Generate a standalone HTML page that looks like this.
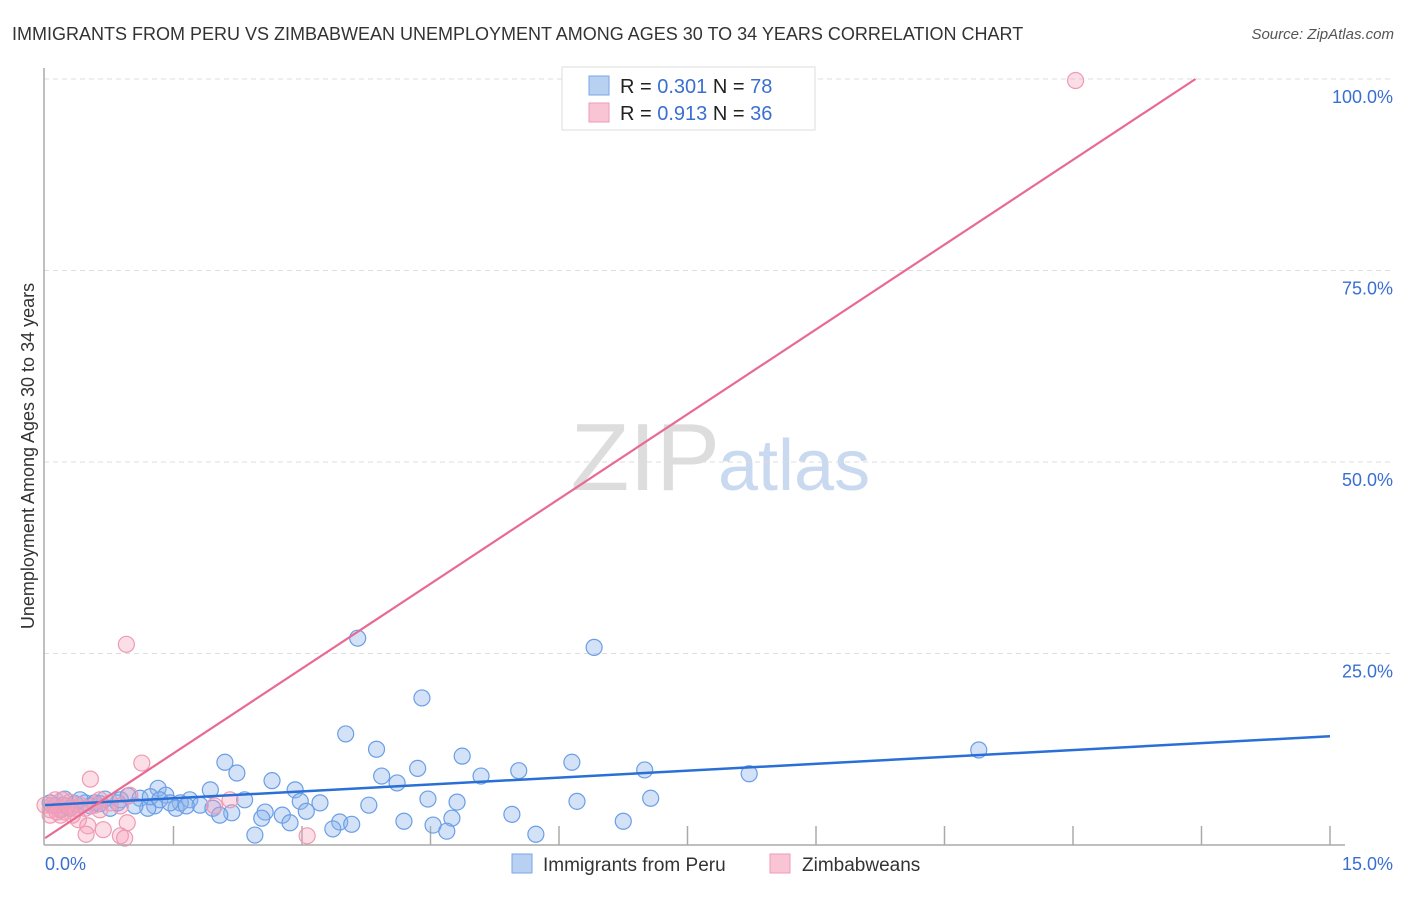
<!DOCTYPE html>
<html><head><meta charset="utf-8"><style>
body{margin:0;background:#fff;font-family:"Liberation Sans",sans-serif;}
svg text{font-family:"Liberation Sans",sans-serif;}
</style></head><body>
<svg id="chart" width="1406" height="892" xmlns="http://www.w3.org/2000/svg">
<text x="12" y="40" font-size="18" fill="#333">IMMIGRANTS FROM PERU VS ZIMBABWEAN UNEMPLOYMENT AMONG AGES 30 TO 34 YEARS CORRELATION CHART</text>
<text x="1394" y="39" font-size="15" fill="#555" font-style="italic" text-anchor="end">Source: ZipAtlas.com</text>
<text x="720" y="490" font-size="96" fill="#ddd" text-anchor="end" font-family="Liberation Serif">ZIP</text>
<text x="718" y="490" font-size="72" fill="#c9d9f0">atlas</text>
<text transform="translate(34,456) rotate(-90)" font-size="18" fill="#333" text-anchor="middle">Unemployment Among Ages 30 to 34 years</text>
<g id="grid"></g><g id="pts"></g><g id="lines"></g>
<line x1="44" y1="68" x2="44" y2="845" stroke="#aaa" stroke-width="1.5"/>
<line x1="44" y1="845" x2="1345" y2="845" stroke="#aaa" stroke-width="1.5"/>
<text x="45" y="870" font-size="18" fill="#3a6fd1">0.0%</text>
<text x="1393" y="870" font-size="18" fill="#3a6fd1" text-anchor="end">15.0%</text>
<g>
<rect x="562" y="67" width="253" height="63" fill="#fff" stroke="#ddd"/>
<rect x="589" y="76" width="20" height="19" fill="#b8d1f3" stroke="#7aa6e6"/>
<rect x="589" y="103" width="20" height="19" fill="#f9c5d5" stroke="#ee9ab5"/>
<text x="620" y="93" font-size="20" fill="#222">R = <tspan fill="#3a6fd1">0.301</tspan>   N = <tspan fill="#3a6fd1">78</tspan></text>
<text x="620" y="120" font-size="20" fill="#222">R = <tspan fill="#3a6fd1">0.913</tspan>   N = <tspan fill="#3a6fd1">36</tspan></text>
</g>
<g>
<rect x="512" y="854" width="20" height="19" fill="#b8d1f3" stroke="#7aa6e6"/>
<text x="543" y="871" font-size="19" fill="#333">Immigrants from Peru</text>
<rect x="770" y="854" width="20" height="19" fill="#f9c5d5" stroke="#ee9ab5"/>
<text x="802" y="871" font-size="19" fill="#333">Zimbabweans</text>
</g>
</svg>
<script>
const yTicks=[25,50,75,100];
const yTickLabels=["25.0%","50.0%","75.0%","100.0%"];
const xTicks=[1.5,3,4.5,6,7.5,9,10.5,12,13.5,15];
const peruX=[3.65,6.41,4.40,3.51,3.87,4.87,6.15,2.10,2.24,4.35,3.93,5.09,5.53,7.00,8.22,10.90,4.11,2.65,1.32,1.93,2.92,1.41,0.97,1.11,1.69,2.33,2.98,3.21,4.47,4.81,6.21,7.07,3.78,1.58,1.81,1.96,1.53,1.28,1.20,0.76,0.85,0.58,0.47,0.35,0.21,0.12,0.06,0.23,2.57,2.77,3.05,2.18,2.04,2.53,2.86,5.45,4.19,4.75,3.44,3.58,4.53,6.75,3.36,4.69,5.73,2.45,0.18,0.29,0.41,0.53,0.64,0.70,0.88,1.05,1.23,1.34,1.46,1.65];
const peruY=[27.0,25.8,19.2,14.5,12.5,11.6,10.8,10.8,9.4,10.0,9.0,9.0,9.7,9.8,9.3,12.4,8.1,8.4,7.4,7.2,7.2,6.5,6.4,6.1,5.9,5.9,5.7,5.5,6.0,5.6,5.7,6.1,5.2,5.5,5.2,4.8,4.8,5.1,4.8,4.8,5.5,5.5,5.5,5.4,5.2,5.1,5.5,6.0,4.3,3.9,4.4,4.2,3.9,3.5,2.9,4.0,3.1,3.5,3.0,2.7,2.6,3.1,2.1,1.8,1.4,1.3,4.6,4.8,5.9,5.1,5.4,6.0,5.9,5.1,6.3,5.9,5.5,5.1];
const zimX=[12.03,0.95,1.13,0.53,0.99,2.16,1.98,0.88,0.64,0.41,0.29,0.18,0.06,0.12,0.23,0.35,0.47,0.58,0.76,0.0,0.39,0.50,0.96,0.68,0.48,0.88,0.93,3.06,0.32,0.18,0.06,0.20,0.64,0.08,0.14,0.26];
const zimY=[99.8,26.2,10.7,8.6,6.5,5.9,5.1,5.1,5.9,5.2,5.6,4.8,4.6,5.9,4.3,4.8,4.8,5.2,5.5,5.2,3.3,2.5,2.9,2.0,1.4,1.2,0.9,1.2,3.9,3.9,3.9,5.9,4.6,5.2,4.3,5.1];
const peruTrend=[0,5.2,15,14.2];
const zimTrend=[0,0.9,13.43,100];
const NS="http://www.w3.org/2000/svg";
const sx=v=>45+v/15*1285, sy=v=>845-v*7.66;
function mk(tag,attrs,parent){const e=document.createElementNS(NS,tag);for(const k in attrs)e.setAttribute(k,attrs[k]);parent.appendChild(e);return e;}
const grid=document.getElementById('grid');
yTicks.forEach((t,i)=>{
 const l=mk('line',{x1:44,x2:1393,y1:sy(t),y2:sy(t),stroke:'#ddd','stroke-dasharray':'5,4'},grid);
 
 
 const tx=mk('text',{x:1393,y:sy(t)+24,'font-size':18,fill:'#3a6fd1','text-anchor':'end'},grid);
 tx.textContent=yTickLabels[i];
 
 
});
xTicks.forEach(t=>{
 const l=mk('line',{x1:sx(t),x2:sx(t),y1:826,y2:845,stroke:'#aaa','stroke-width':1.5},grid);
 
 
});
const pts=document.getElementById('pts');
peruX.forEach((x,i)=>{
 const c=mk('circle',{cx:sx(x),cy:sy(peruY[i]),r:8,fill:'rgba(140,180,235,0.38)',stroke:'#6a9ee6','stroke-width':1.2},pts);
 
 
});
zimX.forEach((x,i)=>{
 const c=mk('circle',{cx:sx(x),cy:sy(zimY[i]),r:8,fill:'rgba(245,160,185,0.35)',stroke:'#ee9ab5','stroke-width':1.2},pts);
 
 
});
const lines=document.getElementById('lines');
const l1=mk('line',{x1:sx(peruTrend[0]),y1:sy(peruTrend[1]),x2:sx(peruTrend[2]),y2:sy(peruTrend[3]),stroke:'#2a6fd6','stroke-width':2.5},lines);


const l2=mk('line',{x1:sx(zimTrend[0]),y1:sy(zimTrend[1]),x2:sx(zimTrend[2]),y2:sy(zimTrend[3]),stroke:'#e86a93','stroke-width':2.2},lines);


</script>
</body></html>
